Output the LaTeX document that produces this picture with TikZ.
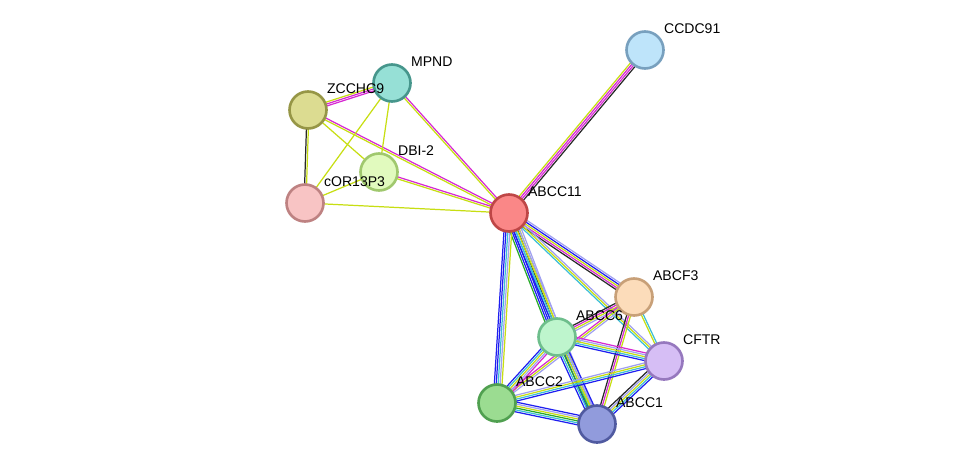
\documentclass[tikz,border=0pt]{standalone}
\usepackage{fontspec}
\setmainfont{Liberation Sans}
\usetikzlibrary{calc}
\definecolor{ctext}{RGB}{199,222,18}
\definecolor{cexp}{RGB}{214,42,210}
\definecolor{cco}{RGB}{40,40,40}
\definecolor{cdb}{RGB}{60,190,215}
\definecolor{cocc}{RGB}{30,30,240}
\definecolor{chom}{RGB}{160,160,240}
\definecolor{cnb}{RGB}{40,170,40}
\tikzset{
  prot/.style={circle,draw,line width=1.5pt,minimum size=0.74cm,inner sep=0},
  lbl/.style={font=\footnotesize,anchor=south west,inner sep=1pt}
}
% parallel multi-coloured edge
\newcommand{\edge}[3]{%
  \foreach \c [count=\i] in {#3} {\xdef\nn{\i}}%
  \foreach \c [count=\i] in {#3} {
    \pgfmathsetmacro{\off}{(\i-(\nn+1)/2)*1.1}
    \draw[\c,line width=0.7pt] ($(#1)!\off pt!90:(#2)$) -- ($(#2)!\off pt!-90:(#1)$);
  }}
\begin{document}
\begin{tikzpicture}[x=0.02cm,y=-0.02cm]
\useasboundingbox (0,0) rectangle (976,470);
\coordinate (CCDC91) at (645,50);
\coordinate (MPND) at (392,83);
\coordinate (ZCCHC9) at (308,110);
\coordinate (DBI) at (379,172);
\coordinate (COR) at (305,203);
\coordinate (ABCC11) at (509,213);
\coordinate (ABCF3) at (634,297);
\coordinate (ABCC6) at (557,337);
\coordinate (CFTR) at (664,361);
\coordinate (ABCC2) at (497,403);
\coordinate (ABCC1) at (597,424);

\edge{ABCC11}{CCDC91}{cco,cexp,cexp,ctext}
\edge{ABCC11}{MPND}{cexp,ctext}
\edge{ABCC11}{ZCCHC9}{cexp,ctext}
\edge{ABCC11}{DBI}{cexp,ctext}
\edge{ABCC11}{COR}{ctext}
\edge{ZCCHC9}{MPND}{cexp,cexp,ctext}
\edge{ZCCHC9}{COR}{cco,ctext}
\edge{ZCCHC9}{DBI}{ctext}
\edge{MPND}{DBI}{ctext}
\edge{MPND}{COR}{ctext}
\edge{DBI}{COR}{ctext}
\edge{ABCC11}{ABCF3}{cco,cexp,ctext,cocc,chom}
\edge{ABCC11}{ABCC6}{cnb,cocc,cocc,cdb,cco,ctext,chom}
\edge{ABCC11}{ABCC2}{cocc,cocc,cdb,chom,ctext}
\edge{ABCC11}{CFTR}{cdb,ctext,chom}
\edge{ABCC11}{ABCC1}{cocc,cdb,ctext,chom}
\edge{ABCF3}{ABCC6}{cco,cexp,ctext,chom}
\edge{ABCF3}{ABCC1}{cco,cexp,ctext}
\edge{ABCF3}{ABCC2}{cexp,ctext,chom}
\edge{ABCF3}{CFTR}{ctext,cdb}
\edge{ABCC6}{ABCC2}{cocc,cdb,ctext,chom,cexp}
\edge{ABCC6}{ABCC1}{cocc,cdb,cnb,ctext,chom,cocc}
\edge{ABCC6}{CFTR}{cocc,cdb,ctext,chom,cexp}
\edge{ABCC2}{ABCC1}{cocc,cdb,cnb,ctext,chom,cocc}
\edge{ABCC2}{CFTR}{cocc,cdb,ctext,chom}
\edge{ABCC1}{CFTR}{cocc,cdb,ctext,chom,cco}

\node[prot,draw={rgb,255:red,120;green,160;blue,190},fill={rgb,255:red,190;green,228;blue,250}] (nCCDC91) at (CCDC91) {};
\node[prot,draw={rgb,255:red,70;green,150;blue,140},fill={rgb,255:red,150;green,224;blue,214}] (nMPND) at (MPND) {};
\node[prot,draw={rgb,255:red,150;green,150;blue,70},fill={rgb,255:red,220;green,220;blue,145}] (nZCCHC9) at (ZCCHC9) {};
\node[prot,draw={rgb,255:red,160;green,200;blue,110},fill={rgb,255:red,225;green,250;blue,190}] (nDBI) at (DBI) {};
\node[prot,draw={rgb,255:red,190;green,130;blue,130},fill={rgb,255:red,248;green,196;blue,196}] (nCOR) at (COR) {};
\node[prot,draw={rgb,255:red,190;green,70;blue,70},fill={rgb,255:red,250;green,135;blue,135}] (nABCC11) at (ABCC11) {};
\node[prot,draw={rgb,255:red,200;green,160;blue,120},fill={rgb,255:red,252;green,220;blue,186}] (nABCF3) at (ABCF3) {};
\node[prot,draw={rgb,255:red,110;green,190;blue,140},fill={rgb,255:red,190;green,245;blue,205}] (nABCC6) at (ABCC6) {};
\node[prot,draw={rgb,255:red,150;green,120;blue,190},fill={rgb,255:red,214;green,190;blue,245}] (nCFTR) at (CFTR) {};
\node[prot,draw={rgb,255:red,80;green,160;blue,80},fill={rgb,255:red,155;green,220;blue,145}] (nABCC2) at (ABCC2) {};
\node[prot,draw={rgb,255:red,80;green,90;blue,160},fill={rgb,255:red,145;green,155;blue,220}] (nABCC1) at (ABCC1) {};

\node[lbl] at ($(nCCDC91)+(17,-14)$) {CCDC91};
\node[lbl] at ($(nMPND)+(17,-14)$) {MPND};
\node[lbl] at ($(nZCCHC9)+(17,-14)$) {ZCCHC9};
\node[lbl] at ($(nDBI)+(17,-14)$) {DBI-2};
\node[lbl] at ($(nCOR)+(17,-14)$) {cOR13P3};
\node[lbl] at ($(nABCC11)+(17,-14)$) {ABCC11};
\node[lbl] at ($(nABCF3)+(17,-14)$) {ABCF3};
\node[lbl] at ($(nABCC6)+(17,-14)$) {ABCC6};
\node[lbl] at ($(nCFTR)+(17,-14)$) {CFTR};
\node[lbl] at ($(nABCC2)+(17,-14)$) {ABCC2};
\node[lbl] at ($(nABCC1)+(17,-14)$) {ABCC1};
\end{tikzpicture}
\end{document}
